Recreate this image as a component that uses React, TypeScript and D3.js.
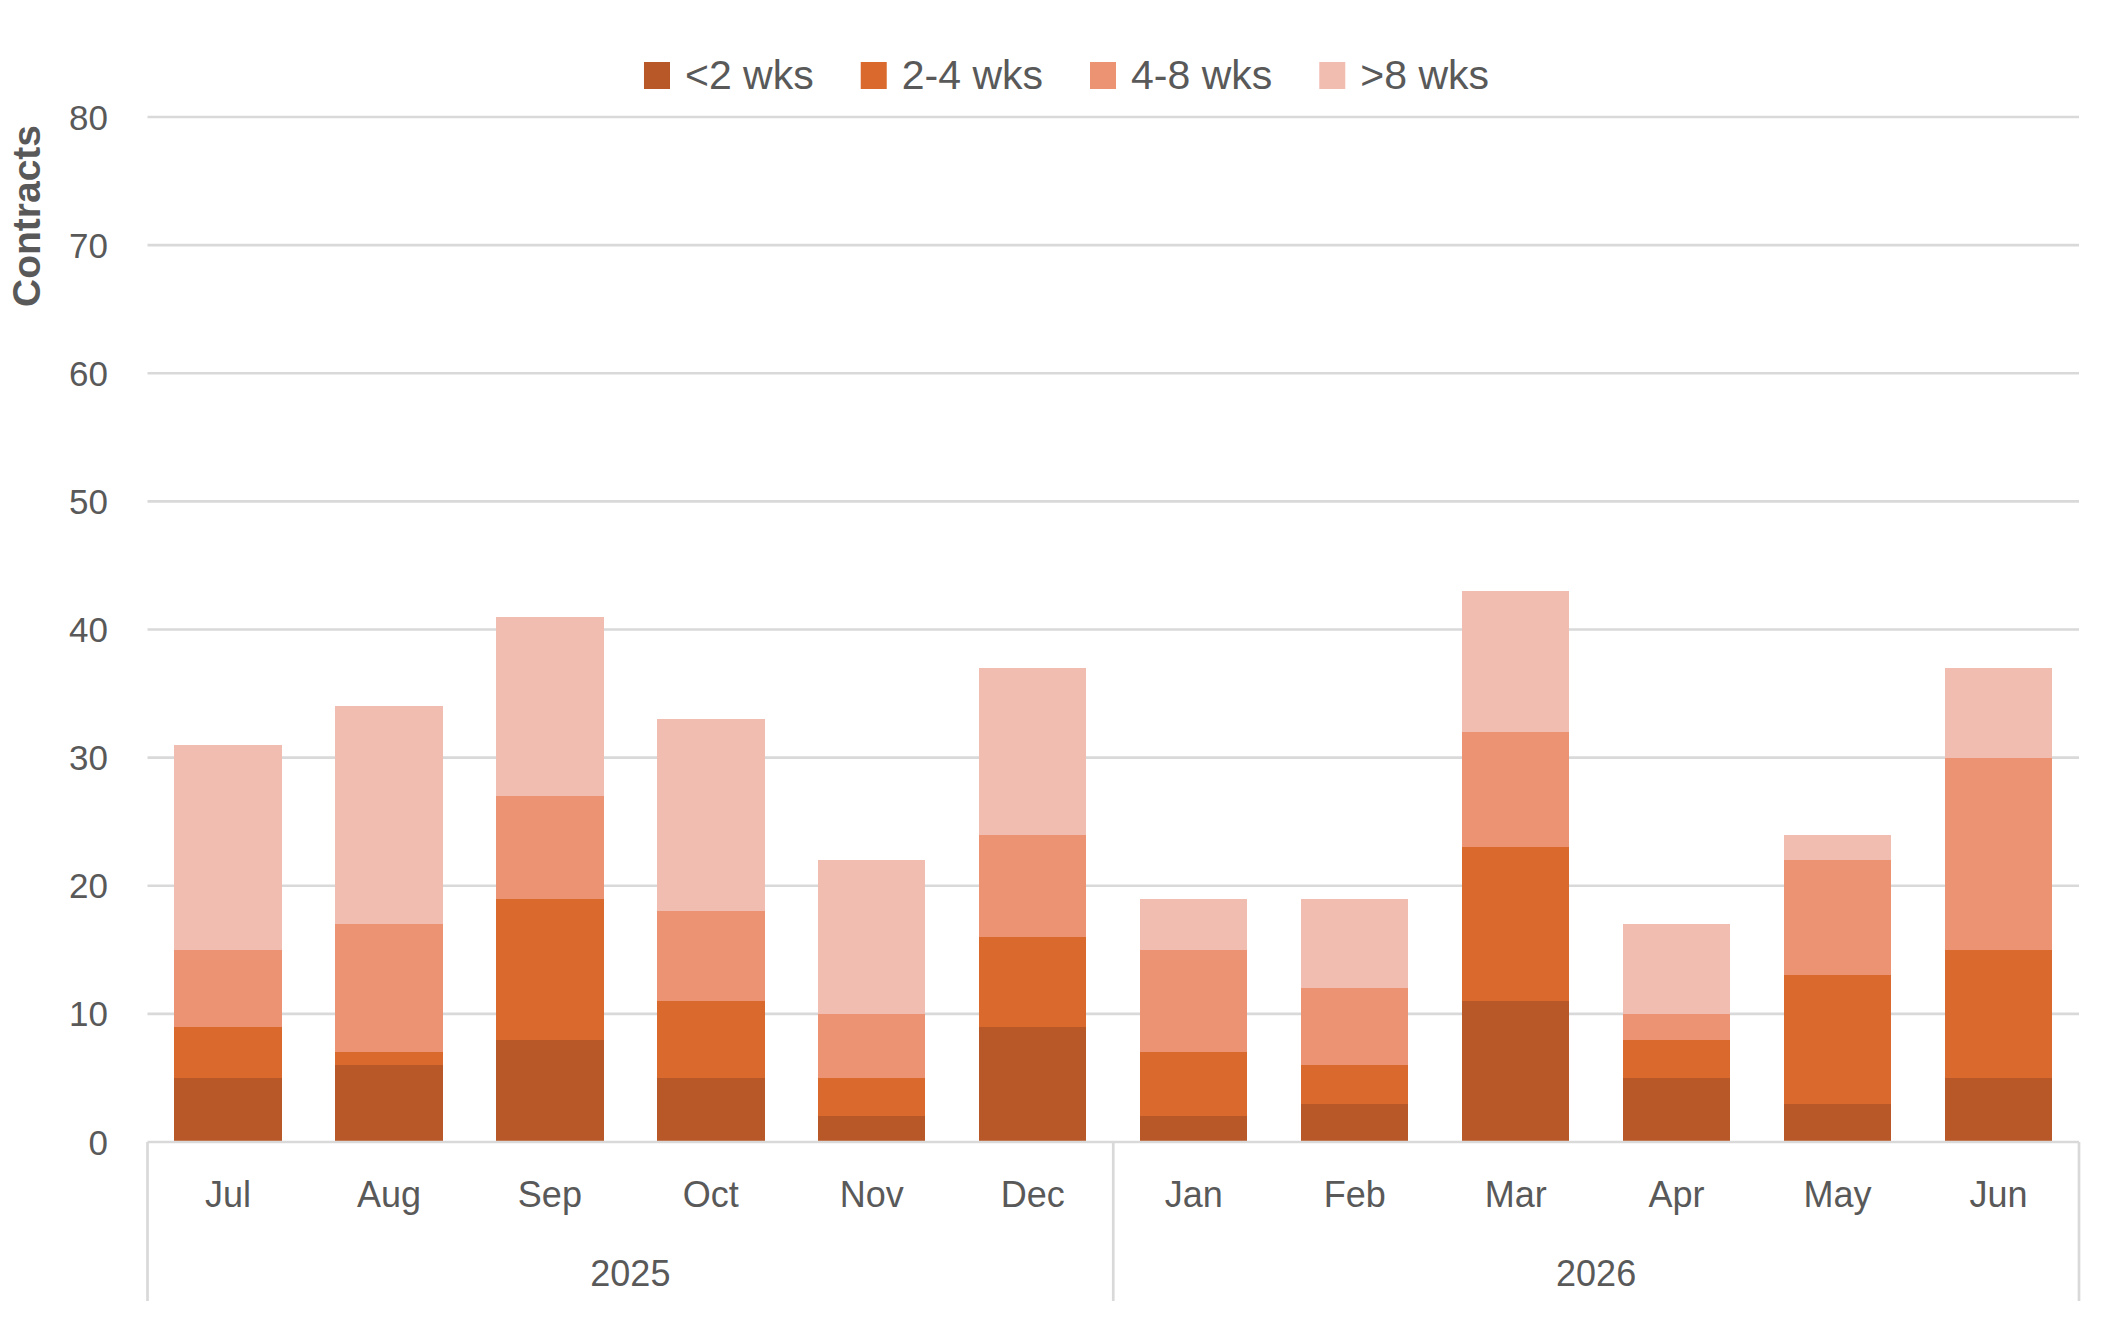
import * as d3 from "d3"
import { useEffect, useRef } from "react"

const months = ["Jul", "Aug", "Sep", "Oct", "Nov", "Dec", "Jan", "Feb", "Mar", "Apr", "May", "Jun"]
const years = ["2025", "2026"]
const monthsPerYear = 6
const seriesNames = ["<2 wks", "2-4 wks", "4-8 wks", ">8 wks"]
const colors = ["#B85727", "#DA692E", "#EB9373", "#F2BDB1"]

const under2 = [5, 6, 8, 5, 2, 9, 2, 3, 11, 5, 3, 5]
const w2to4 = [4, 1, 11, 6, 3, 7, 5, 3, 12, 3, 10, 10]
const w4to8 = [6, 10, 8, 7, 5, 8, 8, 6, 9, 2, 9, 15]
const over8 = [16, 17, 14, 15, 12, 13, 4, 7, 11, 7, 2, 7]

const yTicks = [0, 10, 20, 30, 40, 50, 60, 70, 80]

export default function App() {
    const ref = useRef<SVGSVGElement | null>(null)

    useEffect(() => {
        document.body.style.margin = "0"
        const width = 2121
        const height = 1318
        const left = 147.5
        const right = 2079
        const top = 117
        const bottom = 1142
        const textColor = "#595959"
        const gridColor = "#D9D9D9"
        const font = "'Liberation Sans', Arial, sans-serif"

        const svg = d3.select(ref.current)
        svg.selectAll("*").remove()
        svg.attr("width", width).attr("height", height)
            .style("display", "block")
            .style("background", "#fff")

        const x = d3.scaleBand<string>().domain(months).range([left, right]).paddingInner(1 / 3).paddingOuter(1 / 6)
        const y = d3.scaleLinear().domain([0, 80]).range([bottom, top])

        const rows = months.map((m, i) => ({
            month: m,
            "<2 wks": under2[i],
            "2-4 wks": w2to4[i],
            "4-8 wks": w4to8[i],
            ">8 wks": over8[i],
        }))
        const stacked = d3.stack<any>().keys(seriesNames)(rows)

        // gridlines
        svg.append("g")
            .selectAll("line")
            .data(yTicks.filter(t => t > 0))
            .join("line")
            .attr("x1", left).attr("x2", right)
            .attr("y1", d => y(d)).attr("y2", d => y(d))
            .attr("stroke", gridColor)
            .attr("stroke-width", 2.7)

        // y tick labels
        svg.append("g")
            .selectAll("text")
            .data(yTicks)
            .join("text")
            .attr("x", 108)
            .attr("y", d => y(d) + 12.5)
            .attr("text-anchor", "end")
            .attr("font-family", font)
            .attr("font-size", 35)
            .attr("fill", textColor)
            .text(d => d)

        // bars
        svg.append("g")
            .attr("shape-rendering", "crispEdges")
            .selectAll("g")
            .data(stacked)
            .join("g")
            .attr("fill", (_, i) => colors[i])
            .selectAll("rect")
            .data(d => d)
            .join("rect")
            .attr("x", d => x(d.data.month)!)
            .attr("width", x.bandwidth())
            .attr("y", d => Math.round(y(d[1])))
            .attr("height", d => Math.round(y(d[0])) - Math.round(y(d[1])))

        // category axis
        const axis = svg.append("g").attr("stroke", gridColor).attr("stroke-width", 2.7)
        axis.append("line")
            .attr("x1", left).attr("x2", right)
            .attr("y1", bottom).attr("y2", bottom)
        const step = x.step()
        axis.selectAll("line.div")
            .data(d3.range(years.length + 1))
            .join("line")
            .attr("class", "div")
            .attr("x1", i => left + i * monthsPerYear * step)
            .attr("x2", i => left + i * monthsPerYear * step)
            .attr("y1", bottom).attr("y2", 1301)

        svg.append("g")
            .selectAll("text")
            .data(months)
            .join("text")
            .attr("x", d => x(d)! + x.bandwidth() / 2)
            .attr("y", 1207)
            .attr("text-anchor", "middle")
            .attr("font-family", font)
            .attr("font-size", 36)
            .attr("fill", textColor)
            .text(d => d)

        svg.append("g")
            .selectAll("text")
            .data(years)
            .join("text")
            .attr("x", (_, i) => left + (i + 0.5) * monthsPerYear * step)
            .attr("y", 1286)
            .attr("text-anchor", "middle")
            .attr("font-family", font)
            .attr("font-size", 36)
            .attr("fill", textColor)
            .text(d => d)

        // y axis title
        svg.append("text")
            .attr("transform", "translate(40,216) rotate(-90)")
            .attr("text-anchor", "middle")
            .attr("font-family", font)
            .attr("font-weight", "bold")
            .attr("font-size", 39)
            .attr("fill", textColor)
            .text("Contracts")

        // legend
        const legend = svg.append("g")
        const items = legend.selectAll("g")
            .data(seriesNames)
            .join("g")
        items.append("rect")
            .attr("width", 26).attr("height", 27)
            .attr("y", 62)
            .attr("fill", (_, i) => colors[i])
        const labels = items.append("text")
            .attr("x", 41)
            .attr("y", 89)
            .attr("font-family", font)
            .attr("font-size", 41)
            .attr("fill", textColor)
            .text(d => d)
        const widths = labels.nodes().map(n => (n as SVGTextElement).getComputedTextLength())
        const gap = 47
        const total = d3.sum(widths) + widths.length * 41 + (widths.length - 1) * gap
        let cx = 1066.5 - total / 2
        items.attr("transform", (_, i) => {
            const t = `translate(${cx},0)`
            cx += 41 + widths[i] + gap
            return t
        })
    }, [])

    return <svg ref={ref} />
}
